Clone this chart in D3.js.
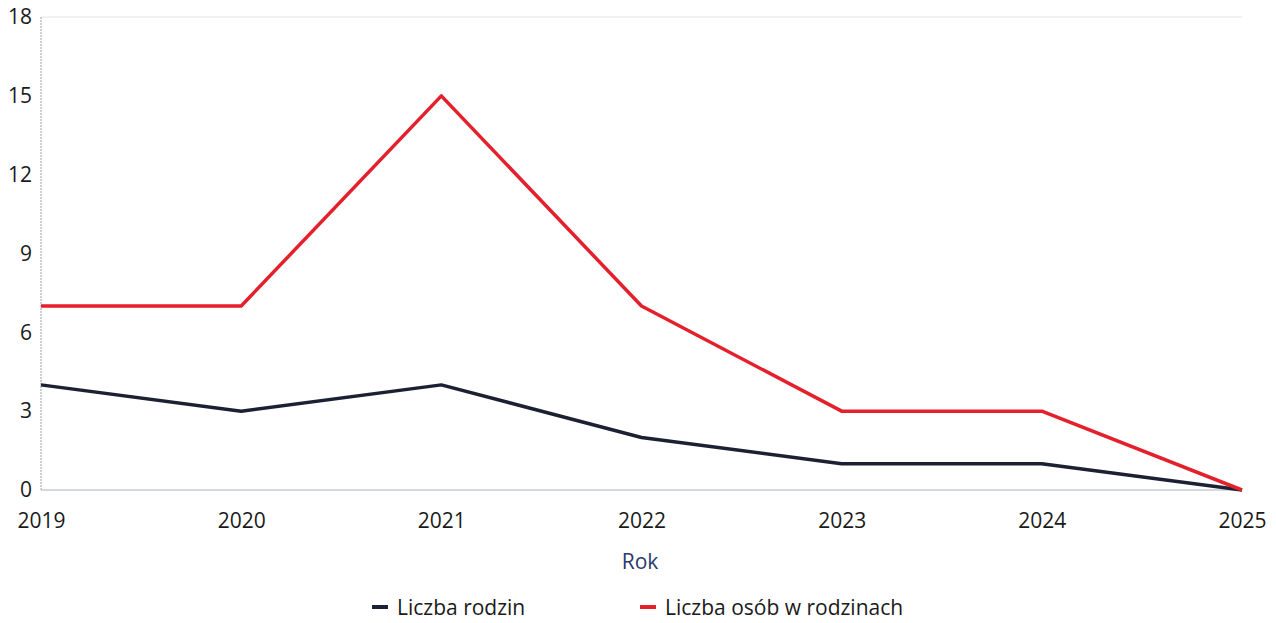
<!DOCTYPE html>
<html><head><meta charset="utf-8">
<script src="https://cdn.jsdelivr.net/npm/d3@7"></script>
<style>body{margin:0;background:#fff;} svg{display:block;font-family:"Open Sans","Noto Sans",sans-serif;}</style>
</head><body>
<svg id="c" width="1276" height="623"></svg>
<script>
const years = ["2019","2020","2021","2022","2023","2024","2025"];
const rodziny = [4,3,4,2,1,1,0];
const osoby = [7,7,15,7,3,3,0];
const yTicks = [0,3,6,9,12,15,18];
const seriesNames = ["Liczba rodzin","Liczba osób w rodzinach"];
const seriesColors = ["#1b2133","#e3202b"];

const svg = d3.select("#c");
const x = d3.scalePoint().domain(years).range([41,1242]);
const y = d3.scaleLinear().domain([0,18]).range([490,17]);

svg.append("line").attr("x1",41).attr("x2",1242).attr("y1",y(18)).attr("y2",y(18))
  .attr("stroke","#eeeeee").attr("stroke-width",1.5);
svg.append("line").attr("x1",41).attr("x2",41).attr("y1",y(18)).attr("y2",y(0))
  .attr("stroke","#9aa0a8").attr("stroke-width",1).attr("stroke-dasharray","2,1");
svg.append("line").attr("x1",41).attr("x2",1242).attr("y1",y(0)).attr("y2",y(0))
  .attr("stroke","#a9b3c4").attr("stroke-width",1);

const yAxis = d3.axisLeft(y).tickValues(yTicks).tickSize(0).tickPadding(9);
const ga = svg.append("g").attr("transform","translate(41,0)").call(yAxis);
ga.select(".domain").remove();
ga.selectAll("text").attr("font-size",21).attr("fill","#1a1a1a").attr("font-family","'Open Sans',sans-serif");

const xAxis = d3.axisBottom(x).tickSize(0).tickPadding(23);
const gx = svg.append("g").attr("transform",`translate(0,${y(0)})`).call(xAxis);
gx.select(".domain").remove();
gx.selectAll("text").attr("font-size",21).attr("fill","#1a1a1a").attr("font-family","'Open Sans',sans-serif");

svg.append("text").attr("x",640).attr("y",569).attr("text-anchor","middle")
  .attr("font-size",21).attr("fill","#2b3a6b").text("Rok");

const line = d3.line().x((d,i)=>x(years[i])).y(d=>y(d));
[rodziny, osoby].forEach((s,i)=>{
  svg.append("path").datum(s).attr("d",line).attr("fill","none")
    .attr("stroke",seriesColors[i]).attr("stroke-width",3.5).attr("stroke-linejoin","round");
});

const legX = [372, 640];
seriesNames.forEach((n,i)=>{
  svg.append("line").attr("x1",legX[i]).attr("x2",legX[i]+16).attr("y1",607).attr("y2",607)
    .attr("stroke",seriesColors[i]).attr("stroke-width",4);
  svg.append("text").attr("x",legX[i]+25).attr("y",615).attr("font-size",21)
    .attr("fill","#1a1a1a").text(n);
});
</script>
</body></html>
